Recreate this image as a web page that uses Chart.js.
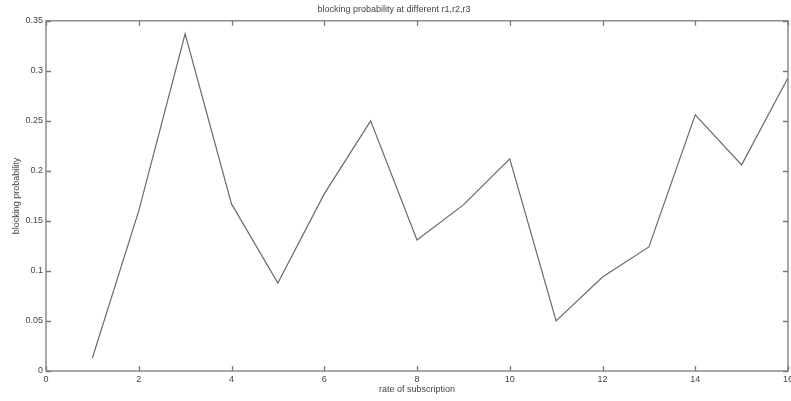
<!DOCTYPE html>
<html>
<head>
<meta charset="utf-8">
<script src="https://cdn.jsdelivr.net/npm/chart.js@4/dist/chart.umd.min.js"></script>
<style>
  html, body { margin: 0; padding: 0; background: #fff; }
  #chart { display: block; }
</style>
</head>
<body>
<canvas id="chart" width="791" height="401"></canvas>
<script>
// rate of subscription (x) and measured blocking probability (y)
const rates = [1, 2, 3, 4, 5, 6, 7, 8, 9, 10, 11, 12, 13, 14, 15, 16];
const blocking = [0.013, 0.160, 0.337, 0.167, 0.088, 0.177, 0.250, 0.131,
                  0.166, 0.212, 0.050, 0.094, 0.124, 0.256, 0.206, 0.293];

const xTicks = [0, 2, 4, 6, 8, 10, 12, 14, 16];
const yTicks = [0, 0.05, 0.1, 0.15, 0.2, 0.25, 0.3, 0.35];

const axisColor = '#7a7a7a';
const textColor = '#444';
const font = { family: 'Liberation Sans, Arial, sans-serif', size: 9 };

// matlab-ish box with inward ticks on all four sides
const boxPlugin = {
    id: 'box',
    afterDraw(chart) {
        const { ctx, chartArea: a, scales } = chart;
        const len = 5;
        ctx.save();
        ctx.strokeStyle = axisColor;
        ctx.lineWidth = 1.3;
        ctx.strokeRect(a.left, a.top, a.right - a.left, a.bottom - a.top);
        ctx.beginPath();
        xTicks.forEach(v => {
            const px = Math.round(scales.x.getPixelForValue(v)) + 0.5;
            ctx.moveTo(px, a.bottom); ctx.lineTo(px, a.bottom - len);
            ctx.moveTo(px, a.top); ctx.lineTo(px, a.top + len);
        });
        yTicks.forEach(v => {
            const py = Math.round(scales.y.getPixelForValue(v)) + 0.5;
            ctx.moveTo(a.left, py); ctx.lineTo(a.left + len, py);
            ctx.moveTo(a.right, py); ctx.lineTo(a.right - len, py);
        });
        ctx.stroke();
        ctx.restore();
    }
};

const ctx = document.getElementById('chart').getContext('2d');
new Chart(ctx, {
    type: 'line',
    data: {
        datasets: [{
            data: rates.map((r, i) => ({ x: r, y: blocking[i] })),
            borderColor: '#6a6a6a',
            borderWidth: 1.2,
            pointRadius: 0,
            tension: 0,
            fill: false
        }]
    },
    options: {
        responsive: false,
        animation: false,
        layout: { padding: { left: 0, right: 3, top: 0, bottom: 0 } },
        plugins: {
            legend: { display: false },
            tooltip: { enabled: false },
            title: {
                display: true,
                text: 'blocking probability at different r1,r2,r3',
                color: textColor,
                font: { ...font, weight: 'normal' },
                padding: { top: 4, bottom: 6 }
            }
        },
        scales: {
            x: {
                type: 'linear',
                min: 0, max: 16,
                afterBuildTicks: s => { s.ticks = xTicks.map(v => ({ value: v })); },
                afterFit: s => { s.height = 30; s.paddingRight = 0; s.paddingLeft = 0; },
                grid: { display: false, drawTicks: false },
                border: { display: false },
                ticks: { color: textColor, font, padding: 3, maxRotation: 0 },
                title: {
                    display: true,
                    text: 'rate of subscription',
                    color: textColor,
                    font,
                    padding: { top: 0, bottom: 6 }
                }
            },
            y: {
                min: 0, max: 0.35,
                afterBuildTicks: s => { s.ticks = yTicks.map(v => ({ value: v })); },
                afterFit: s => { s.width = 46; },
                grid: { display: false, drawTicks: false },
                border: { display: false },
                ticks: {
                    color: textColor, font, padding: 3,
                    callback: v => String(+v.toFixed(2))
                },
                title: {
                    display: true,
                    text: 'blocking probability',
                    color: textColor,
                    font,
                    padding: { top: 11, bottom: 0 }
                }
            }
        }
    },
    plugins: [boxPlugin]
});
</script>
</body>
</html>
